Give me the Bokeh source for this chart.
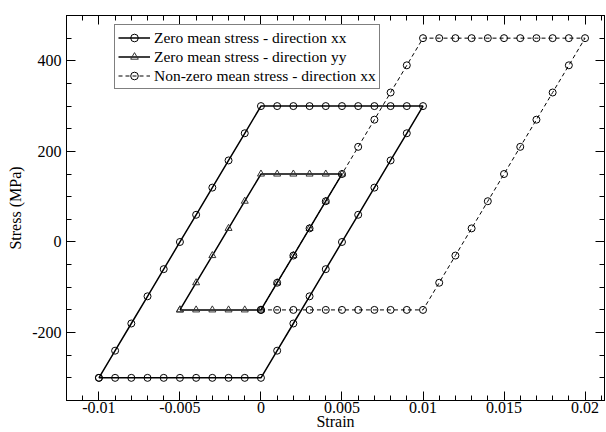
from bokeh.plotting import figure
from bokeh.models import (Range1d, LinearAxis, SingleIntervalTicker,
                          CustomJSTickFormatter, Legend, LegendItem)
from bokeh.embed import file_html
from bokeh.resources import INLINE

# ---- data ----
xx_strain = [-0.010, -0.009, -0.008, -0.007, -0.006, -0.005, -0.004, -0.003, -0.002, -0.001, 0.000,
             0.001, 0.002, 0.003, 0.004, 0.005, 0.006, 0.007, 0.008, 0.009, 0.010,
             0.009, 0.008, 0.007, 0.006, 0.005, 0.004, 0.003, 0.002, 0.001, 0.000,
             -0.001, -0.002, -0.003, -0.004, -0.005, -0.006, -0.007, -0.008, -0.009, -0.010]
xx_stress = [-300, -300, -300, -300, -300, -300, -300, -300, -300, -300, -300,
             -240, -180, -120, -60, 0, 60, 120, 180, 240, 300,
             300, 300, 300, 300, 300, 300, 300, 300, 300, 300,
             240, 180, 120, 60, 0, -60, -120, -180, -240, -300]

yy_strain = [-0.005, -0.004, -0.003, -0.002, -0.001, 0.000,
             0.001, 0.002, 0.003, 0.004, 0.005,
             0.004, 0.003, 0.002, 0.001, 0.000,
             -0.001, -0.002, -0.003, -0.004, -0.005]
yy_stress = [-150, -150, -150, -150, -150, -150,
             -90, -30, 30, 90, 150,
             150, 150, 150, 150, 150,
             90, 30, -30, -90, -150]

nz_strain = [0.000, 0.001, 0.002, 0.003, 0.004, 0.005, 0.006, 0.007, 0.008, 0.009, 0.010,
             0.011, 0.012, 0.013, 0.014, 0.015, 0.016, 0.017, 0.018, 0.019, 0.020,
             0.019, 0.018, 0.017, 0.016, 0.015, 0.014, 0.013, 0.012, 0.011, 0.010,
             0.009, 0.008, 0.007, 0.006, 0.005, 0.004, 0.003, 0.002, 0.001, 0.000]
nz_stress = [-150, -150, -150, -150, -150, -150, -150, -150, -150, -150, -150,
             -90, -30, 30, 90, 150, 210, 270, 330, 390, 450,
             450, 450, 450, 450, 450, 450, 450, 450, 450, 450,
             390, 330, 270, 210, 150, 90, 30, -30, -90, -150]

labels = ["Zero mean stress - direction xx",
          "Zero mean stress - direction yy",
          "Non-zero mean stress - direction xx"]

FONT = "Liberation Serif"

p = figure(width=606, height=432, output_backend="svg", toolbar_location=None,
           x_range=Range1d(-0.012, 0.0212), y_range=Range1d(-350, 500),
           min_border_left=66, min_border_right=2, min_border_top=15, min_border_bottom=32,
           x_axis_label="Strain", y_axis_label="Stress (MPa)")
p.grid.visible = False
p.outline_line_color = "black"
p.outline_line_width = 1
p.background_fill_color = "white"
p.border_fill_color = "white"

fmt = CustomJSTickFormatter(code="return String(parseFloat(tick.toFixed(6)));")
blank = CustomJSTickFormatter(code="return '';")


def style_axis(ax):
    ax.axis_line_color = "black"
    ax.major_tick_line_color = "black"
    ax.minor_tick_line_color = "black"
    ax.major_tick_in = 9
    ax.major_tick_out = 0
    ax.minor_tick_in = 5
    ax.minor_tick_out = 0
    ax.major_label_text_font = FONT
    ax.axis_label_text_font = FONT
    ax.axis_label_text_font_style = "normal"
    ax.axis_label_text_font_size = "16px"
    ax.axis_label_text_color = "black"
    ax.major_label_text_color = "black"
    ax.major_label_text_font_size = "16px"


xa = p.xaxis[0]
xa.ticker = SingleIntervalTicker(interval=0.005, num_minor_ticks=5)
xa.formatter = fmt
style_axis(xa)
xa.major_label_standoff = 1
xa.axis_label_standoff = -3

ya = p.yaxis[0]
ya.ticker = SingleIntervalTicker(interval=200, num_minor_ticks=4)
ya.formatter = fmt
style_axis(ya)
ya.major_label_standoff = 5
ya.axis_label_standoff = 5

top = LinearAxis(ticker=SingleIntervalTicker(interval=0.005, num_minor_ticks=5), formatter=blank)
style_axis(top)
top.major_label_standoff = 0
p.add_layout(top, "above")
right = LinearAxis(ticker=SingleIntervalTicker(interval=200, num_minor_ticks=4), formatter=blank)
style_axis(right)
right.major_label_standoff = 0
p.add_layout(right, "right")

l1 = p.line(xx_strain, xx_stress, line_color="black", line_width=1.5)
s1 = p.scatter(xx_strain, xx_stress, marker="circle", size=7, fill_color=None,
               line_color="black", line_width=1)
l2 = p.line(yy_strain, yy_stress, line_color="black", line_width=1.5)
s2 = p.scatter(yy_strain, yy_stress, marker="triangle", size=7, fill_color=None,
               line_color="#333333", line_width=1)
l3 = p.line(nz_strain, nz_stress, line_color="black", line_width=1, line_dash="4 3")
s3 = p.scatter(nz_strain, nz_stress, marker="circle", size=7, fill_color=None,
               line_color="black", line_width=1)

legend = Legend(items=[LegendItem(label=labels[0], renderers=[l1, s1]),
                       LegendItem(label=labels[1], renderers=[l2, s2]),
                       LegendItem(label=labels[2], renderers=[l3, s3])],
                location=(48, 311), margin=0, padding=3, spacing=0,
                glyph_width=32, glyph_height=19, label_height=19, label_standoff=4,
                label_text_font=FONT, label_text_font_size="15.5px", label_text_color="black",
                border_line_color="black", border_line_width=1,
                background_fill_color="white", background_fill_alpha=1)
p.add_layout(legend)

open("out.html", "w").write(file_html(p, INLINE))
